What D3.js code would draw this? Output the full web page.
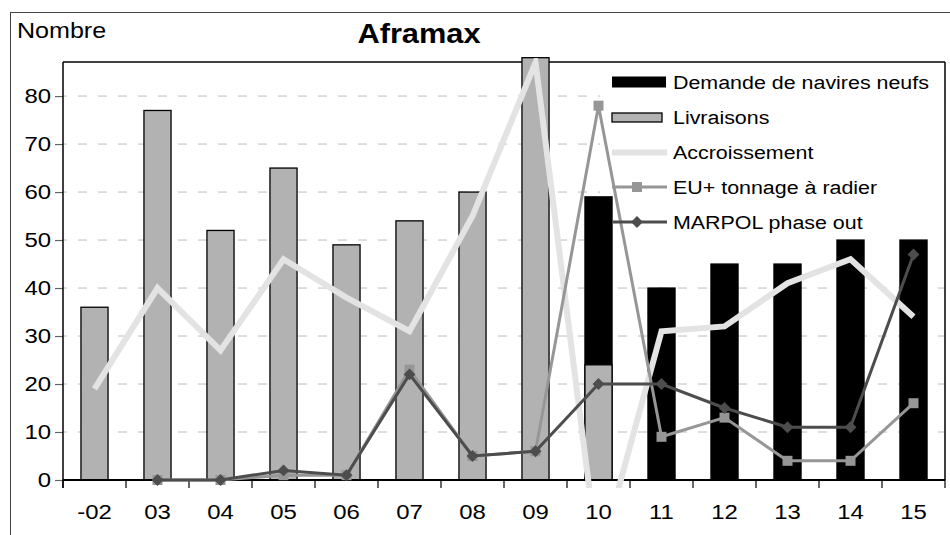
<!DOCTYPE html>
<html>
<head>
<meta charset="utf-8">
<script src="https://cdn.jsdelivr.net/npm/d3@7"></script>
<style>
  body { margin: 0; background: #fff; }
  svg { display: block; }
  text { font-family: "Liberation Sans", Arial, sans-serif; fill: #000; }
</style>
</head>
<body>
<svg id="chart" width="950" height="535"></svg>
<script>
// Aframax fleet: new-build demand, deliveries, growth and scrapping (number of ships)
const years = ["-02", "03", "04", "05", "06", "07", "08", "09", "10", "11", "12", "13", "14", "15"];
const demande = [null, null, null, null, null, null, null, null, 59, 40, 45, 45, 50, 50];
const livraisons = [36, 77, 52, 65, 49, 54, 60, 88, 24, null, null, null, null, null];
const accroissement = [19, 40, 27, 46, 38, 31, 55, 87, -17, 31, 32, 41, 46, 34];
const euTonnage = [null, 0, 0, 1, 1, 23, 5, 6, 78, 9, 13, 4, 4, 16];
const marpol = [null, 0, 0, 2, 1, 22, 5, 6, 20, 20, 15, 11, 11, 47];
const yTicks = [0, 10, 20, 30, 40, 50, 60, 70, 80];
const seriesNames = ["Demande de navires neufs", "Livraisons", "Accroissement", "EU+ tonnage à radier", "MARPOL phase out"];

const W = 950, H = 535;
const plot = { left: 63, right: 945, top: 62, bottom: 480 };
const SX = 1.14; // horizontal stretch of the lettering

const svg = d3.select("#chart");

const x = d3.scaleBand().domain(years).range([plot.left, plot.right]).padding(0);
const y = d3.scaleLinear().domain([0, 87.1]).range([plot.bottom, plot.top]);
const barW = x.bandwidth() * 0.43;
const cx = d => x(d) + x.bandwidth() / 2;

// helper for horizontally stretched text
function label(g, txt, px, py, opts) {
  const t = g.append("text")
    .attr("transform", `translate(${px},${py}) scale(${SX},1)`)
    .attr("font-size", opts.size)
    .attr("text-anchor", opts.anchor || "start")
    .attr("dominant-baseline", opts.baseline || "alphabetic")
    .text(txt);
  if (opts.bold) t.attr("font-weight", "bold");
  return t;
}

// outer chart frame
svg.append("rect").attr("x", 10.5).attr("y", 12.5).attr("width", W + 20).attr("height", H + 20)
  .attr("fill", "none").attr("stroke", "#444").attr("stroke-width", 1);

// title and unit label
label(svg, "Aframax", 419, 43, { size: 27, anchor: "middle", bold: true });
label(svg, "Nombre", 17, 38, { size: 22 });

// horizontal gridlines
svg.append("g").selectAll("line").data(yTicks.filter(d => d > 0)).join("line")
  .attr("x1", plot.left).attr("x2", plot.right)
  .attr("y1", d => y(d)).attr("y2", d => y(d))
  .attr("stroke", "#bdbdbd").attr("stroke-width", 1)
  .attr("stroke-dasharray", "9,11").attr("stroke-dashoffset", 5);

// legend backdrop (covers gridlines behind the legend)
svg.append("rect").attr("x", 600).attr("y", plot.top + 1).attr("width", plot.right - 601).attr("height", 181)
  .attr("fill", "#fff");

// plot frame (top and right edges)
svg.append("line").attr("x1", plot.left).attr("x2", plot.right).attr("y1", plot.top).attr("y2", plot.top)
  .attr("stroke", "#000").attr("stroke-width", 1.5);
svg.append("line").attr("x1", plot.right).attr("x2", plot.right).attr("y1", plot.top).attr("y2", plot.bottom)
  .attr("stroke", "#000").attr("stroke-width", 1.5);

// bars: demand (black) behind deliveries (grey)
svg.append("g").selectAll("rect").data(years.map((d, i) => ({ d, v: demande[i] })).filter(e => e.v != null))
  .join("rect")
  .attr("x", e => cx(e.d) - barW / 2).attr("width", barW)
  .attr("y", e => y(e.v)).attr("height", e => y(0) - y(e.v))
  .attr("fill", "#000").attr("stroke", "#000").attr("stroke-width", 1.3);

svg.append("g").selectAll("rect").data(years.map((d, i) => ({ d, v: livraisons[i] })).filter(e => e.v != null))
  .join("rect")
  .attr("x", e => cx(e.d) - barW / 2).attr("width", barW)
  .attr("y", e => y(e.v)).attr("height", e => y(0) - y(e.v))
  .attr("fill", "#b2b2b2").attr("stroke", "#000").attr("stroke-width", 1.3);

// axes
const yAxis = svg.append("g").attr("transform", `translate(${plot.left},0)`)
  .call(d3.axisLeft(y).tickValues(yTicks).tickSize(8).tickPadding(4).tickFormat(d3.format("d")));
yAxis.select(".domain").remove();
yAxis.selectAll(".tick line").attr("stroke", "#666").attr("stroke-width", 1.2);
yAxis.selectAll(".tick text").remove();
yTicks.forEach(t => label(svg, String(t), 51, y(t), { size: 21, anchor: "end", baseline: "central" }));

// x-axis tick marks sit on category boundaries
const bounds = years.map(d => x(d)).concat([plot.right]);
svg.append("g").selectAll("line").data(bounds).join("line")
  .attr("x1", d => d).attr("x2", d => d).attr("y1", plot.bottom).attr("y2", plot.bottom + 8)
  .attr("stroke", "#000").attr("stroke-width", 1.2);
years.forEach(d => label(svg, d, cx(d), 519, { size: 21, anchor: "middle" }));

// value axis line and category axis line
svg.append("line").attr("x1", plot.left).attr("x2", plot.left).attr("y1", plot.top).attr("y2", plot.bottom + 8)
  .attr("stroke", "#000").attr("stroke-width", 1.5);
svg.append("line").attr("x1", plot.left).attr("x2", plot.right).attr("y1", plot.bottom).attr("y2", plot.bottom)
  .attr("stroke", "#000").attr("stroke-width", 2);

// clip for the line series
svg.append("clipPath").attr("id", "plotClip").append("rect")
  .attr("x", plot.left).attr("y", plot.top - 4).attr("width", plot.right - plot.left).attr("height", plot.bottom - plot.top + 12);

const lines = svg.append("g").attr("clip-path", "url(#plotClip)");
const lineGen = d3.line().defined(p => p.v != null).x(p => cx(p.d)).y(p => y(p.v));
const pts = arr => years.map((d, i) => ({ d, v: arr[i] }));

lines.append("path").datum(pts(accroissement)).attr("d", lineGen)
  .attr("fill", "none").attr("stroke", "#e3e3e3").attr("stroke-width", 6).attr("stroke-linejoin", "miter");

lines.append("path").datum(pts(euTonnage)).attr("d", lineGen)
  .attr("fill", "none").attr("stroke", "#969696").attr("stroke-width", 3);
lines.append("g").selectAll("rect").data(pts(euTonnage).filter(p => p.v != null)).join("rect")
  .attr("x", p => cx(p.d) - 5).attr("y", p => y(p.v) - 5).attr("width", 10).attr("height", 10)
  .attr("fill", "#969696");

const diamond = d3.symbol().type(d3.symbolDiamond2).size(90);
lines.append("path").datum(pts(marpol)).attr("d", lineGen)
  .attr("fill", "none").attr("stroke", "#4d4d4d").attr("stroke-width", 3);
lines.append("g").selectAll("path").data(pts(marpol).filter(p => p.v != null)).join("path")
  .attr("transform", p => `translate(${cx(p.d)},${y(p.v)})`)
  .attr("d", diamond).attr("fill", "#4d4d4d");

// legend
const lg = svg.append("g");
const rowsY = [82, 117.5, 152.5, 187, 222];
const sx0 = 612, sx1 = 667, tx = 673;
// demand swatch
lg.append("rect").attr("x", sx0).attr("y", rowsY[0] - 5.5).attr("width", 54).attr("height", 11).attr("fill", "#000");
// deliveries swatch
lg.append("rect").attr("x", sx0).attr("y", rowsY[1] - 4.5).attr("width", 50).attr("height", 9)
  .attr("fill", "#b2b2b2").attr("stroke", "#000").attr("stroke-width", 1.3);
// growth line
lg.append("line").attr("x1", sx0).attr("x2", sx1).attr("y1", rowsY[2]).attr("y2", rowsY[2])
  .attr("stroke", "#e3e3e3").attr("stroke-width", 6);
// EU+ line with square
lg.append("line").attr("x1", sx0).attr("x2", sx1).attr("y1", rowsY[3]).attr("y2", rowsY[3])
  .attr("stroke", "#969696").attr("stroke-width", 3);
lg.append("rect").attr("x", 637 - 5).attr("y", rowsY[3] - 5).attr("width", 10).attr("height", 10).attr("fill", "#969696");
// MARPOL line with diamond
lg.append("line").attr("x1", sx0).attr("x2", sx1).attr("y1", rowsY[4]).attr("y2", rowsY[4])
  .attr("stroke", "#4d4d4d").attr("stroke-width", 3);
lg.append("path").attr("transform", `translate(637,${rowsY[4]})`).attr("d", diamond).attr("fill", "#4d4d4d");

seriesNames.forEach((n, i) => label(lg, n, tx, rowsY[i], { size: 18.8, baseline: "central" }));
</script>
</body>
</html>
